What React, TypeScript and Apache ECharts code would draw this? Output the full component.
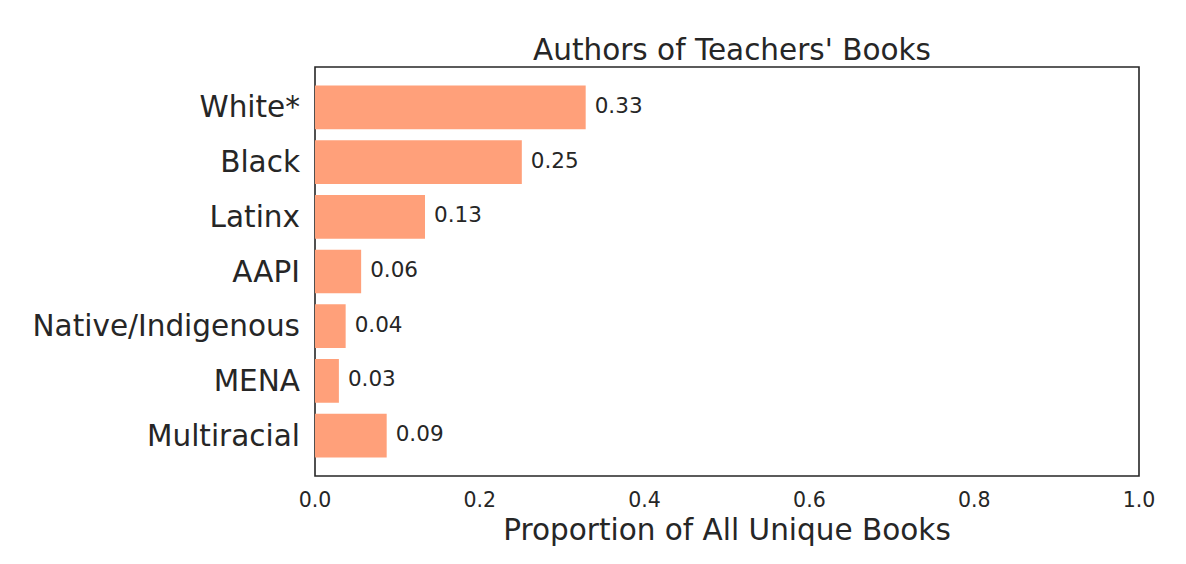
import React, { useEffect, useRef } from "react";
import * as echarts from "echarts";

const categories = ["White*", "Black", "Latinx", "AAPI", "Native/Indigenous", "MENA", "Multiracial"];
const proportions = [0.3285, 0.251, 0.1335, 0.056, 0.0372, 0.029, 0.087];
const xTicks = [0, 0.2, 0.4, 0.6, 0.8, 1.0];

const FONT = "DejaVu Sans";
const TEXT = "#262626";

export default function App() {
  const ref = useRef<HTMLDivElement>(null);
  useEffect(() => {
    if (!ref.current) return;
    const chart = echarts.init(ref.current, null, { renderer: "svg" });
    const plotLeft = 315;
    const plotTop = 67;
    const plotW = 824;
    const plotH = 409;
    const unit = plotH / 7.48;
    const innerTop = plotTop + 0.24 * unit;
    const innerH = 7 * unit;
    chart.setOption({
      animation: false,
      backgroundColor: "#ffffff",
      textStyle: { fontFamily: FONT, color: TEXT },
      title: {
        text: "Authors of Teachers' Books",
        left: plotLeft + plotW / 2,
        textAlign: "center",
        top: 30,
        textStyle: { fontFamily: FONT, fontSize: 29.5, fontWeight: "normal", color: TEXT },
      },
      grid: [
        {
          left: plotLeft, top: plotTop, width: plotW, height: plotH,
          show: true, borderColor: "#262626", borderWidth: 1.6, backgroundColor: "#ffffff",
        },
        { left: plotLeft, top: innerTop, width: plotW, height: innerH },
      ],
      xAxis: [
        {
          gridIndex: 0, type: "value", min: 0, max: 1, interval: 0.2,
          axisLine: { show: false }, axisTick: { show: false }, splitLine: { show: false },
          axisLabel: {
            fontFamily: FONT, fontSize: 20.5, color: TEXT, margin: 13,
            formatter: (v: number) => v.toFixed(1),
            customValues: xTicks,
          },
          name: "Proportion of All Unique Books",
          nameLocation: "middle",
          nameGap: 39,
          nameTextStyle: { fontFamily: FONT, fontSize: 29.5, color: TEXT },
        },
        {
          gridIndex: 1, type: "value", min: 0, max: 1, show: false,
        },
      ],
      yAxis: [
        { gridIndex: 0, type: "value", show: false, min: 0, max: 1 },
        {
          gridIndex: 1, type: "category", data: categories, inverse: true,
          axisLine: { show: false }, axisTick: { show: false }, splitLine: { show: false },
          axisLabel: { fontFamily: FONT, fontSize: 29.5, color: TEXT, margin: 15 },
        },
      ],
      series: [
        {
          type: "bar",
          xAxisIndex: 1,
          yAxisIndex: 1,
          data: proportions,
          barWidth: 0.8 * unit,
          itemStyle: { color: "#FFA07A" },
          label: {
            show: true,
            position: "right",
            distance: 9,
            offset: [0, -2],
            fontFamily: FONT,
            fontSize: 21.5,
            color: TEXT,
            formatter: (p: any) => (p.value as number).toFixed(2),
          },
        },
      ],
    });
    return () => chart.dispose();
  }, []);
  return <div ref={ref} style={{ width: 1186, height: 564, position: "absolute", left: 0, top: 0 }} />;
}
